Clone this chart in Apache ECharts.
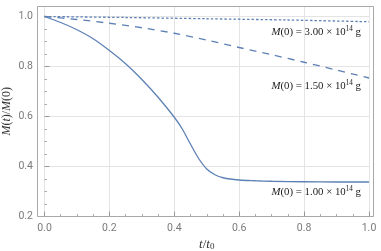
<!DOCTYPE html>
<html><head><meta charset="utf-8">
<script src="https://cdn.jsdelivr.net/npm/echarts@6/dist/echarts.min.js"></script>
<style>html,body{margin:0;padding:0;background:#fff}#c{width:381px;height:251px}</style>
</head><body><div id="c"></div>
<script>
const tSolid = [0, 0.05, 0.1, 0.15, 0.2, 0.25, 0.3, 0.35, 0.4, 0.425, 0.45, 0.475, 0.5, 0.525, 0.55, 0.6, 0.65, 0.7, 0.8, 0.9, 1.0];
const mSolid = [1.0, 0.976, 0.947, 0.911, 0.864, 0.811, 0.748, 0.677, 0.597, 0.549, 0.489, 0.432, 0.390, 0.367, 0.355, 0.346, 0.343, 0.341, 0.339, 0.338, 0.338];
const tDashed = [0, 0.1, 0.2, 0.3, 0.4, 0.5, 0.6, 0.7, 0.8, 0.9, 1.0];
const mDashed = [1.0, 0.988, 0.973, 0.955, 0.933, 0.906, 0.876, 0.847, 0.817, 0.786, 0.754];
const tDotted = [0, 0.25, 0.5, 0.75, 1.0];
const mDotted = [1.0, 0.996, 0.991, 0.986, 0.979];
const labelTexts = ['3.00', '1.50', '1.00'];

const blue = '#5e81b5';
const serif = '"Liberation Serif", "DejaVu Serif", serif';
const zip = (a, b) => a.map((v, i) => [v, b[i]]);
const fs = 10.8;
const rich = {
  i: {fontFamily: serif, fontStyle: 'italic', fontSize: fs, color: '#222'},
  r: {fontFamily: serif, fontSize: fs, color: '#222'},
  sup: {fontFamily: serif, fontSize: 7.2, color: '#222', verticalAlign: 'top', padding: [0,0,5,0]}
};
const lbl = v => '{i|M}{r|(0) = ' + v + ' × 10}{sup|14}{r| g}';

const chart = echarts.init(document.getElementById('c'), null, {renderer: 'canvas'});
const frame = {type: 'rect', shape: {x: 37.5, y: 6.5, width: 336, height: 210}, style: {fill: 'none', stroke: '#a8a8a8', lineWidth: 1}, z: 100, silent: true};
const labelPos = [33, 87, 193];
chart.setOption({
  animation: false,
  grid: {left: 44.5, right: 12, top: 6, bottom: 34.5, containLabel: false, outerBoundsMode: 'none'},
  xAxis: {
    type: 'value', min: 0, max: 1, interval: 0.2,
    axisLine: {show: false},
    axisTick: {show: true, inside: true, length: 5, lineStyle: {color: '#999', width: 1}},
    minorTick: {show: true, splitNumber: 4, length: 2.5, lineStyle: {color: '#aaa'}},
    splitLine: {show: true, lineStyle: {color: '#e4e4e4', width: 1}},
    axisLabel: {color: '#7a7a7a', fontSize: 10.5, fontFamily: 'Roboto, "Noto Sans", sans-serif', margin: 6,
      formatter: v => v.toFixed(1)},
    name: '{i|t}{r|/}{i|t}{s|0}', nameLocation: 'middle', nameGap: 22, nameMoveOverlap: false,
    nameTextStyle: {rich: {
      i: {fontFamily: serif, fontStyle: 'italic', fontSize: 13, color: '#333'},
      r: {fontFamily: serif, fontSize: 13, color: '#333'},
      s: {fontFamily: serif, fontSize: 9, color: '#333', verticalAlign: 'bottom', padding: [4,0,0,0]}
    }}
  },
  yAxis: {
    type: 'value', min: 0.2, max: 1.042, interval: 0.2, offset: 7.5,
    axisLine: {show: false},
    axisTick: {show: true, inside: true, length: 5, lineStyle: {color: '#999', width: 1}},
    minorTick: {show: true, splitNumber: 4, length: 2.5, lineStyle: {color: '#aaa'}},
    splitLine: {show: true, lineStyle: {color: '#e4e4e4', width: 1}},
    axisLabel: {color: '#7a7a7a', fontSize: 10.5, fontFamily: 'Roboto, "Noto Sans", sans-serif', margin: 4,
      showMaxLabel: false, formatter: v => v.toFixed(1)},
    name: '{i|M}{r|(}{i|t}{r|)/}{i|M}{r|(0)}', nameLocation: 'middle', nameGap: 24, nameRotate: 90, nameMoveOverlap: false,
    nameTextStyle: {rich: {
      i: {fontFamily: serif, fontStyle: 'italic', fontSize: 12, color: '#333'},
      r: {fontFamily: serif, fontSize: 12, color: '#333'}
    }}
  },
  graphic: [frame].concat(labelTexts.map((v, k) => ({type: 'text', right: 20, top: labelPos[k] - 7, z: 100,
    style: {text: lbl(v), rich: rich, fill: '#222'}}))),
  series: [
    {type: 'line', data: zip(tSolid, mSolid), smooth: 0.3, symbol: 'none', lineStyle: {color: blue, width: 1.3}},
    {type: 'line', data: zip(tDashed, mDashed), smooth: 0.3, symbol: 'none', lineStyle: {color: blue, width: 1.3, type: [7, 6]}},
    {type: 'line', data: zip(tDotted, mDotted), smooth: 0.3, symbol: 'none', lineStyle: {color: blue, width: 1.3, type: [2.5, 2]}}
  ]
});
</script></body></html>
